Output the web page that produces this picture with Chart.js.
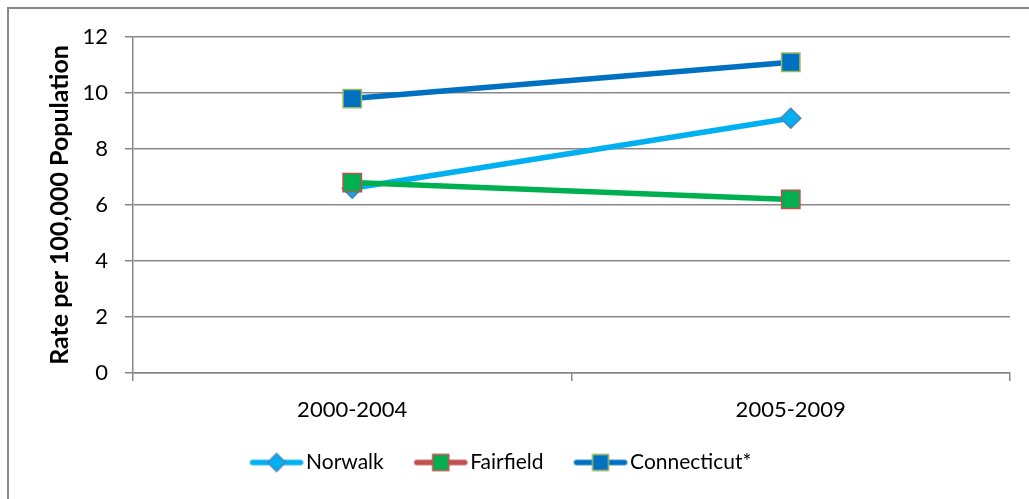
<!DOCTYPE html>
<html>
<head>
<meta charset="utf-8">
<script src="https://cdn.jsdelivr.net/npm/chart.js@4"></script>
<style>
  html, body { margin: 0; padding: 0; background: #fff; }
  #wrap { position: relative; width: 1029px; height: 499px; overflow: hidden; }
  #frame { position: absolute; left: 7px; top: 7px; width: 1100px; height: 600px; border: 2px solid #888; box-sizing: border-box; }
  canvas { position: absolute; left: 0; top: 0; }
</style>
</head>
<body>
<div id="wrap">
  <div id="frame"></div>
  <canvas id="chart" width="1029" height="499"></canvas>
</div>
<script>
const categories = ['2000-2004', '2005-2009'];
const norwalk = [6.6, 9.1];
const fairfield = [6.8, 6.2];
const connecticut = [9.8, 11.1];
const seriesNames = ['Norwalk', 'Fairfield', 'Connecticut*'];
const yTicks = [0, 2, 4, 6, 8, 10, 12];

const FONT = 'Lato, "Liberation Sans", sans-serif';

// little line + marker picture for each legend entry
// (drawn inside a wider transparent canvas so the text sits close to it)
function legendIcon(lineColor, fill, stroke, shape) {
  const c = document.createElement('canvas');
  c.width = 80; c.height = 22;
  const ctx = c.getContext('2d');
  const ox = 20;
  ctx.strokeStyle = lineColor;
  ctx.lineWidth = 5.5;
  ctx.lineCap = 'round';
  ctx.beginPath();
  ctx.moveTo(ox + 3, 11); ctx.lineTo(ox + 51, 11);
  ctx.stroke();
  ctx.fillStyle = fill;
  ctx.strokeStyle = stroke;
  ctx.lineWidth = 1.5;
  ctx.beginPath();
  if (shape === 'diamond') {
    ctx.moveTo(ox + 27, 2); ctx.lineTo(ox + 36, 11); ctx.lineTo(ox + 27, 20); ctx.lineTo(ox + 18, 11); ctx.closePath();
  } else {
    ctx.rect(ox + 19, 3, 16, 16);
  }
  ctx.fill(); ctx.stroke();
  return c;
}

const icons = [
  legendIcon('#00B0F0', '#00B0F0', '#4F81BD', 'diamond'),
  legendIcon('#C0504D', '#00B050', '#C0504D', 'square'),
  legendIcon('#0070C0', '#0070C0', '#9BBB59', 'square')
];

// nudge the legend a bit to the left, like the original
const legendShift = {
  id: 'legendShift',
  afterLayout(chart) {
    chart.legend.left -= 30;
    chart.legend.right -= 30;
  }
};

const ctx = document.getElementById('chart').getContext('2d');
new Chart(ctx, {
  type: 'line',
  plugins: [legendShift],
  data: {
    labels: categories,
    datasets: [
      {
        label: seriesNames[0], data: norwalk, order: 3,
        borderColor: '#00B0F0', borderWidth: 5.5,
        pointStyle: 'rectRot', pointRadius: 10, pointHoverRadius: 10,
        pointBackgroundColor: '#00B0F0', pointBorderColor: '#4F81BD', pointBorderWidth: 1.5
      },
      {
        label: seriesNames[1], data: fairfield, order: 2,
        borderColor: '#00B050', borderWidth: 5.5,
        pointStyle: 'rect', pointRadius: 13, pointHoverRadius: 13,
        pointBackgroundColor: '#00B050', pointBorderColor: '#C0504D', pointBorderWidth: 1.5
      },
      {
        label: seriesNames[2], data: connecticut, order: 1,
        borderColor: '#0070C0', borderWidth: 5.5,
        pointStyle: 'rect', pointRadius: 13, pointHoverRadius: 13,
        pointBackgroundColor: '#0070C0', pointBorderColor: '#9BBB59', pointBorderWidth: 1.5
      }
    ]
  },
  options: {
    responsive: false,
    animation: false,
    layout: { padding: { left: 45, right: 19, top: 37, bottom: 16 } },
    plugins: {
      tooltip: { enabled: false },
      legend: {
        position: 'bottom',
        labels: {
          usePointStyle: true,
          pointStyleWidth: 52,
          padding: 24,
          color: '#000',
          font: { family: FONT, size: 21 },
          generateLabels(chart) {
            const items = Chart.defaults.plugins.legend.labels.generateLabels(chart);
            items.sort((a, b) => a.datasetIndex - b.datasetIndex);
            items.forEach(it => { it.pointStyle = icons[it.datasetIndex]; });
            return items;
          }
        }
      }
    },
    scales: {
      x: {
        offset: true,
        grid: { offset: true, drawOnChartArea: false, drawTicks: true, tickLength: 8, color: '#888', lineWidth: 1.5 },
        border: { color: '#888', width: 1.5 },
        ticks: { color: '#000', font: { family: FONT, size: 22 }, padding: 16 },
        afterFit(scale) { scale.height = 55; }
      },
      y: {
        min: 0, max: 12,
        afterBuildTicks(scale) { scale.ticks = yTicks.map(v => ({ value: v })); },
        grid: { color: '#888', lineWidth: 1.5, tickLength: 8 },
        border: { color: '#888', width: 1.5 },
        ticks: { color: '#000', font: { family: FONT, size: 22 }, padding: 17 },
        title: {
          display: true, text: 'Rate per 100,000 Population', color: '#000',
          font: { family: FONT, size: 25, weight: 'bold' }, padding: 0
        },
        afterFit(scale) { scale.width = 88; }
      }
    }
  }
});
</script>
</body>
</html>
